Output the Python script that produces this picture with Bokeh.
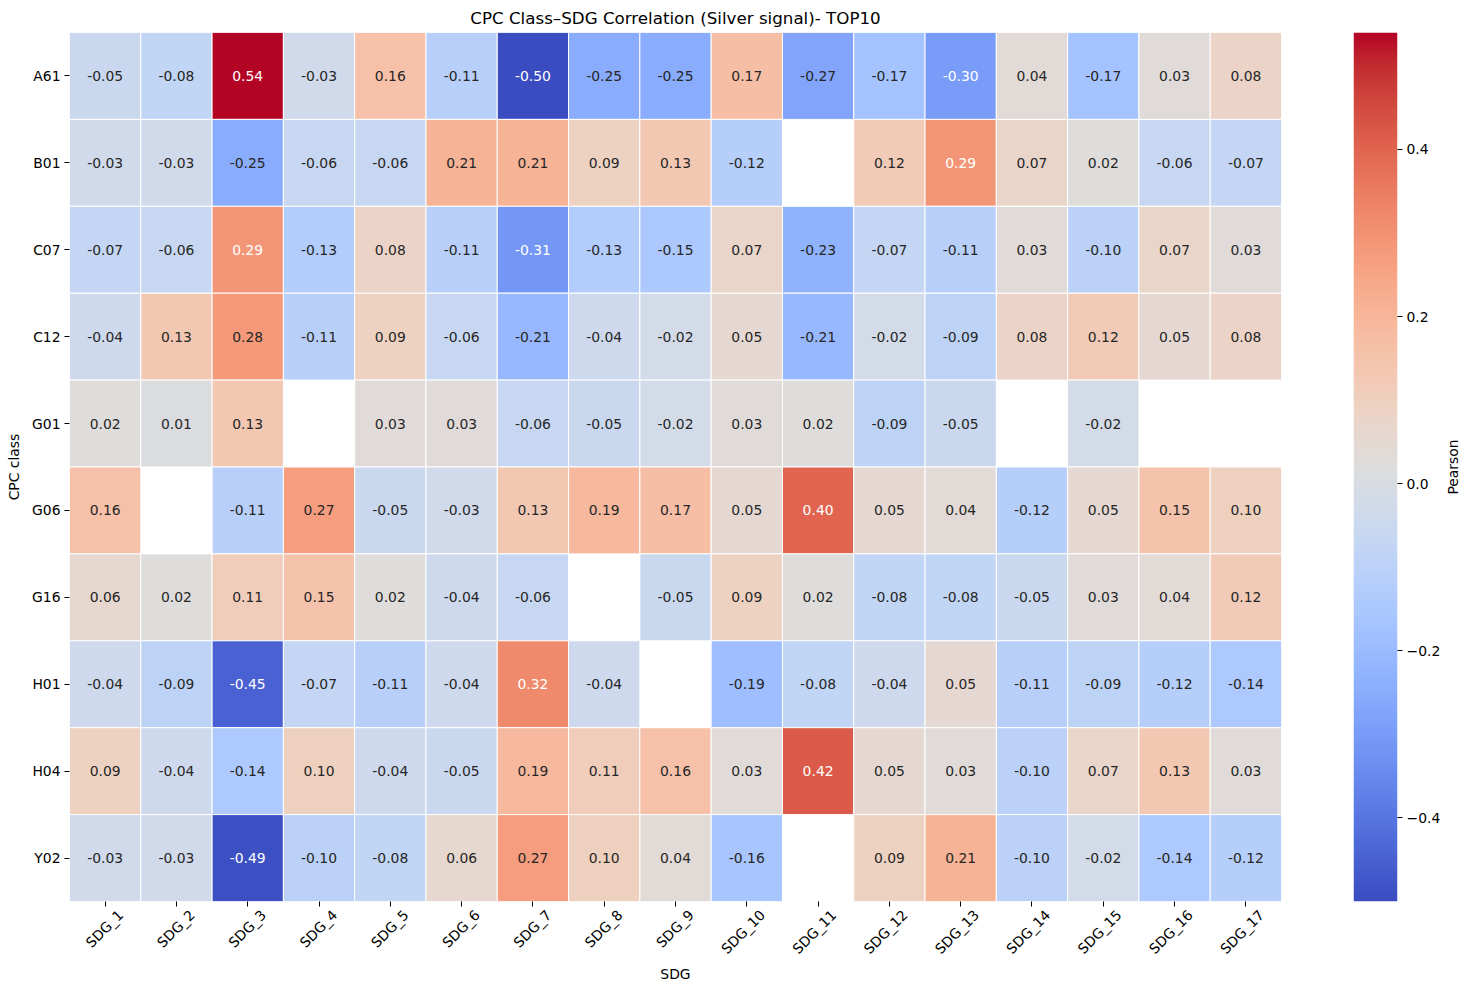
import numpy as np
from bokeh.plotting import figure
from bokeh.layouts import row
from bokeh.models import (ColumnDataSource, LinearColorMapper, FixedTicker, Range1d,
                          LinearAxis)
from bokeh.transform import transform
from bokeh.core.properties import value
from bokeh.embed import file_html
from bokeh.resources import INLINE

nan = float("nan")

cpc_classes = ["A61", "B01", "C07", "C12", "G01", "G06", "G16", "H01", "H04", "Y02"]
sdgs = ["SDG_%d" % i for i in range(1, 18)]

r_A61 = [-0.05, -0.08, 0.54, -0.03, 0.16, -0.11, -0.50, -0.25, -0.25, 0.17, -0.27, -0.17, -0.30, 0.04, -0.17, 0.03, 0.08]
r_B01 = [-0.03, -0.03, -0.25, -0.06, -0.06, 0.21, 0.21, 0.09, 0.13, -0.12, nan, 0.12, 0.29, 0.07, 0.02, -0.06, -0.07]
r_C07 = [-0.07, -0.06, 0.29, -0.13, 0.08, -0.11, -0.31, -0.13, -0.15, 0.07, -0.23, -0.07, -0.11, 0.03, -0.10, 0.07, 0.03]
r_C12 = [-0.04, 0.13, 0.28, -0.11, 0.09, -0.06, -0.21, -0.04, -0.02, 0.05, -0.21, -0.02, -0.09, 0.08, 0.12, 0.05, 0.08]
r_G01 = [0.02, 0.01, 0.13, nan, 0.03, 0.03, -0.06, -0.05, -0.02, 0.03, 0.02, -0.09, -0.05, nan, -0.02, nan, nan]
r_G06 = [0.16, nan, -0.11, 0.27, -0.05, -0.03, 0.13, 0.19, 0.17, 0.05, 0.40, 0.05, 0.04, -0.12, 0.05, 0.15, 0.10]
r_G16 = [0.06, 0.02, 0.11, 0.15, 0.02, -0.04, -0.06, nan, -0.05, 0.09, 0.02, -0.08, -0.08, -0.05, 0.03, 0.04, 0.12]
r_H01 = [-0.04, -0.09, -0.45, -0.07, -0.11, -0.04, 0.32, -0.04, nan, -0.19, -0.08, -0.04, 0.05, -0.11, -0.09, -0.12, -0.14]
r_H04 = [0.09, -0.04, -0.14, 0.10, -0.04, -0.05, 0.19, 0.11, 0.16, 0.03, 0.42, 0.05, 0.03, -0.10, 0.07, 0.13, 0.03]
r_Y02 = [-0.03, -0.03, -0.49, -0.10, -0.08, 0.06, 0.27, 0.10, 0.04, -0.16, nan, 0.09, 0.21, -0.10, -0.02, -0.14, -0.12]

matrix = [r_A61, r_B01, r_C07, r_C12, r_G01, r_G06, r_G16, r_H01, r_H04, r_Y02]

cbar_ticks = [-0.4, -0.2, 0.0, 0.2, 0.4]
cbar_tick_labels = ["\u22120.4", "\u22120.2", "0.0", "0.2", "0.4"]

# ---- coolwarm palette (Moreland anchors) ----
anchors = [
    (59, 76, 192), (68, 90, 204), (77, 104, 215), (87, 117, 225), (98, 130, 234),
    (108, 142, 241), (119, 154, 247), (130, 165, 251), (141, 176, 254), (152, 185, 255),
    (163, 194, 255), (174, 201, 253), (184, 208, 249), (194, 213, 244), (204, 217, 238),
    (213, 219, 230), (221, 221, 221), (229, 216, 209), (236, 211, 197), (241, 204, 184),
    (245, 196, 172), (247, 187, 160), (247, 177, 148), (247, 166, 135), (244, 154, 123),
    (241, 141, 111), (236, 127, 99), (229, 112, 88), (222, 96, 77), (213, 80, 66),
    (203, 62, 56), (192, 40, 47), (180, 4, 38)]
anc = np.array(anchors, dtype=float)
apos = np.linspace(0, 1, len(anchors))
t = np.linspace(0, 1, 256)
pal_rgb = np.stack([np.interp(t, apos, anc[:, k]) for k in range(3)], axis=1)
palette = ["#%02x%02x%02x" % tuple(int(round(c)) for c in rgb) for rgb in pal_rgb]

vals = np.array(matrix, dtype=float)
vmin = float(np.nanmin(vals))
vmax = float(np.nanmax(vals))
mapper = LinearColorMapper(palette=palette, low=vmin, high=vmax, nan_color="white")

# x positions: centre of each SDG column (index + 0.5)
col_pos = [i + 0.5 for i in range(len(sdgs))]

xs, ys, vs, labels, tcolors = [], [], [], [], []
for ri, cls in enumerate(cpc_classes):
    for ci, sdg in enumerate(sdgs):
        v = matrix[ri][ci]
        if np.isnan(v):
            continue
        xs.append(col_pos[ci])
        ys.append(cls)
        vs.append(v)
        labels.append("%.2f" % v)
        tcolors.append("white" if abs(v) > 0.285 else "#262626")

src = ColumnDataSource(dict(x=xs, y=ys, v=vs, label=labels, tc=tcolors))

FONT = "DejaVu Sans"
H = 989
TOP = 32
BOTTOM = 88

p = figure(width=1353, height=H, x_range=Range1d(0, len(sdgs)),
           y_range=cpc_classes[::-1],
           output_backend="svg", toolbar_location=None,
           title="CPC Class\u2013SDG Correlation (Silver signal)- TOP10",
           min_border_left=69, min_border_right=72, min_border_top=TOP,
           min_border_bottom=BOTTOM)
p.title.align = "center"
p.title.text_font = FONT
p.title.text_font_size = "16.7px"
p.title.text_font_style = "normal"
p.title.text_color = "black"
p.title.standoff = 10
p.outline_line_color = None
p.grid.grid_line_color = None

p.rect(x="x", y="y", width=1, height=1, source=src,
       fill_color=transform("v", mapper), line_color="white", line_width=1)
p.text(x="x", y="y", text="label", source=src, text_color="tc",
       text_align="center", text_baseline="middle",
       text_font=value(FONT), text_font_size="13.9px")

for ax in (p.xaxis[0], p.yaxis[0]):
    ax.axis_line_color = None
    ax.major_tick_in = 0
    ax.major_tick_out = 5
    ax.major_tick_line_color = "black"
    ax.minor_tick_line_color = None
    ax.major_label_text_font = FONT
    ax.major_label_text_font_size = "13.9px"
    ax.major_label_text_color = "black"
    ax.axis_label_text_font = FONT
    ax.axis_label_text_font_size = "13.9px"
    ax.axis_label_text_font_style = "normal"
    ax.axis_label_text_color = "black"
p.yaxis.axis_label = "CPC class"
p.yaxis.major_label_standoff = 4
p.yaxis.axis_label_standoff = 7

# main x axis keeps only the tick marks (its labels are not drawn)
p.xaxis.ticker = FixedTicker(ticks=col_pos)
p.xaxis.major_label_text_font_size = "0px"
p.xaxis.major_label_text_color = None
p.xaxis.major_label_standoff = 0

# x tick labels centred under the ticks (rotated 45 degrees)
label_shift = 0.22
p.extra_x_ranges = {"labels": Range1d(start=-label_shift, end=len(sdgs) - label_shift)}
lab_axis = LinearAxis(x_range_name="labels", ticker=FixedTicker(ticks=col_pos),
                      major_label_overrides={tp: s for tp, s in zip(col_pos, sdgs)})
lab_axis.axis_line_color = None
lab_axis.major_tick_in = 0
lab_axis.major_tick_out = 0
lab_axis.minor_tick_line_color = None
lab_axis.major_label_orientation = np.pi / 4
lab_axis.major_label_standoff = 6
lab_axis.major_label_text_font = FONT
lab_axis.major_label_text_font_size = "13.9px"
lab_axis.major_label_text_color = "black"
lab_axis.axis_label = "SDG"
lab_axis.axis_label_text_font = FONT
lab_axis.axis_label_text_font_size = "13.9px"
lab_axis.axis_label_text_font_style = "normal"
lab_axis.axis_label_text_color = "black"
lab_axis.axis_label_standoff = 0
p.add_layout(lab_axis, "below")

# ---- colour bar ----
pc = figure(width=91, height=H, x_range=(0, 1), y_range=(vmin, vmax),
            output_backend="svg", toolbar_location=None, y_axis_location="right",
            min_border_left=0, min_border_right=47, min_border_top=TOP,
            min_border_bottom=BOTTOM)
grad = np.linspace(vmin, vmax, 256).reshape(256, 1)
pc.image(image=[grad], x=0, y=vmin, dw=1, dh=vmax - vmin, color_mapper=mapper)
pc.xaxis.visible = False
pc.grid.grid_line_color = None
pc.outline_line_color = None
ya = pc.yaxis[0]
ya.ticker = FixedTicker(ticks=cbar_ticks)
ya.major_label_overrides = {tk: lb for tk, lb in zip(cbar_ticks, cbar_tick_labels)}
ya.axis_line_color = None
ya.major_tick_in = 0
ya.major_tick_out = 5
ya.minor_tick_line_color = None
ya.major_label_text_font = FONT
ya.major_label_text_font_size = "13.9px"
ya.major_label_text_color = "black"
ya.major_label_standoff = 4

# ---- colour bar label ----
pl = figure(width=16, height=H, x_range=(0, 1), y_range=(0, 1),
            output_backend="svg", toolbar_location=None,
            min_border_left=0, min_border_right=0, min_border_top=TOP,
            min_border_bottom=BOTTOM)
pl.axis.visible = False
pl.grid.grid_line_color = None
pl.outline_line_color = None
pl.text(x=[0.5], y=[0.5], text=["Pearson"], angle=np.pi / 2,
        text_align="center", text_baseline="middle",
        text_font=value(FONT), text_font_size="13.9px", text_color="black")

layout = row(p, pc, pl)
open("out.html", "w").write(file_html(layout, INLINE))
